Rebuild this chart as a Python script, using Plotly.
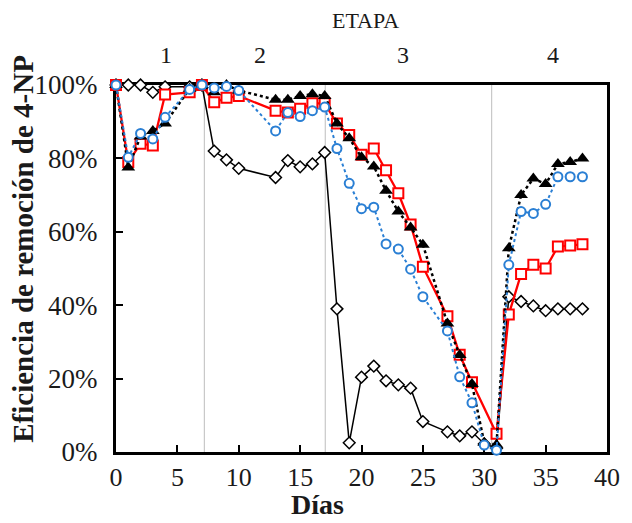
import plotly.graph_objects as go

# ---- data ----
dias_diamante = [0, 1, 2, 3, 4, 6, 7, 8, 9, 10, 13, 14, 15, 16, 17, 18, 19, 20, 21, 22, 23, 24, 25,
                 27, 28, 29, 30, 31, 32, 33, 34, 35, 36, 37, 38]
val_diamante = [100, 100, 100, 98, 99.5, 99.5, 100, 82, 79.6, 77.3, 74.8, 79.4, 77.7, 78.5, 81.6, 39,
                2.5, 20.4, 23.4, 19.4, 18.3, 17.4, 8.3, 5.5, 4.4, 5.5, 2.2, 1, 42.3, 41, 39.8, 38.5,
                39, 39, 39]

dias_cuadro = [0, 1, 2, 3, 4, 6, 7, 8, 9, 10, 13, 14, 15, 16, 17, 18, 19, 20, 21, 22, 23, 24, 25,
               27, 28, 29, 31, 32, 33, 34, 35, 36, 37, 38]
val_cuadro = [100, 79, 84, 83.5, 97.4, 98, 100, 95.3, 96.5, 97, 93, 92.5, 93.5, 95, 95, 89.5, 86.4,
              81, 82.7, 76.8, 70.5, 62, 50.5, 37, 26.5, 19, 5, 37.5, 48.5, 51, 50, 56, 56.3, 56.6]

dias_triangulo = [0, 1, 2, 3, 4, 6, 7, 8, 9, 10, 13, 14, 15, 16, 17, 18, 19, 20, 21, 22, 23, 24, 25,
                  27, 28, 29, 30, 31, 32, 33, 34, 35, 36, 37, 38]
val_triangulo = [100, 77.5, 86, 87.5, 89.5, 99, 100, 98, 100, 98.5, 96, 96, 97, 97.5, 97, 89.5, 85.5,
                 80.3, 77.8, 71.2, 65.5, 61.2, 56.5, 35, 26.4, 18.5, 2.5, 2, 55.5, 70, 74.5, 73,
                 78.5, 79, 80]

dias_circulo = [0, 1, 2, 3, 4, 6, 7, 8, 9, 10, 13, 14, 15, 16, 17, 18, 19, 20, 21, 22, 23, 24, 25,
                27, 28, 29, 30, 31, 32, 33, 34, 35, 36, 37, 38]
val_circulo = [100, 80.3, 86.8, 85.3, 91.2, 98.8, 100, 99.2, 99.6, 98.5, 87.5, 92.5, 91.4, 93, 94,
               82.7, 73.2, 66.3, 66.7, 56.7, 55.3, 49.8, 42.3, 33, 20.5, 13.4, 1.9, 0.5, 51, 65.5,
               65, 67.5, 75, 75, 75]

limites_etapa = [7.2, 17.05, 30.6]
etapas = ["1", "2", "3", "4"]
pos_etapas = [4.05, 11.7, 23.4, 35.6]

x_ticks = [0, 5, 10, 15, 20, 25, 30, 35, 40]
y_ticks = [0, 0.2, 0.4, 0.6, 0.8, 1.0]

SERIF = "Liberation Serif"
TXT = "#1a1a1a"

fig = go.Figure()

for xb in limites_etapa:
    fig.add_shape(type="line", x0=xb, x1=xb, y0=0, y1=1, xref="x", yref="y",
                  line=dict(color="#c8c8c8", width=1.2), layer="below")

fig.add_trace(go.Scatter(
    x=dias_diamante, y=[v / 100 for v in val_diamante], mode="lines+markers",
    line=dict(color="black", width=1.5),
    marker=dict(symbol="diamond", size=9, color="white", line=dict(color="black", width=1.5)),
    cliponaxis=False, showlegend=False))

fig.add_trace(go.Scatter(
    x=dias_cuadro, y=[v / 100 for v in val_cuadro], mode="lines+markers",
    line=dict(color="#ff0000", width=2.3),
    marker=dict(symbol="square", size=10, color="white", line=dict(color="#ff0000", width=2)),
    cliponaxis=False, showlegend=False))

fig.add_trace(go.Scatter(
    x=dias_triangulo, y=[v / 100 for v in val_triangulo], mode="lines+markers",
    line=dict(color="black", width=2.5, dash="dot"),
    marker=dict(symbol="triangle-up", size=12, color="black"),
    cliponaxis=False, showlegend=False))

fig.add_trace(go.Scatter(
    x=dias_circulo, y=[v / 100 for v in val_circulo], mode="lines+markers",
    line=dict(color="#2a7fd4", width=2, dash="dot"),
    marker=dict(symbol="circle", size=9, color="white", line=dict(color="#2a7fd4", width=2)),
    cliponaxis=False, showlegend=False))

annotations = [
    dict(text="ETAPA", x=0.509, y=1.175, xref="paper", yref="paper", showarrow=False,
         yanchor="middle", font=dict(family=SERIF, size=22, color=TXT)),
    dict(text="<b>Días</b>", x=0.411, y=-0.19, xref="paper", yref="paper", showarrow=False,
         yanchor="bottom", font=dict(family=SERIF, size=28, color=TXT)),
    dict(text="<b>Eficiencia de remoción de 4-NP</b>", x=-0.19, y=0.553, xref="paper",
         yref="paper", showarrow=False, textangle=-90, xanchor="center", yanchor="middle",
         font=dict(family=SERIF, size=29, color=TXT)),
]
for lab, px in zip(etapas, pos_etapas):
    annotations.append(dict(text=lab, x=px, y=1.082, xref="x", yref="paper", showarrow=False,
                            yanchor="middle", font=dict(family=SERIF, size=24, color=TXT)))

# The page body adds an 8 px offset; size and margins compensate for it.
fig.update_layout(
    width=624, height=515,
    margin=dict(l=108, r=15, t=77, b=71),
    paper_bgcolor="white", plot_bgcolor="white",
    annotations=annotations,
    xaxis=dict(range=[0, 40], tickvals=x_ticks, ticks="inside", ticklen=7, tickwidth=2,
               tickcolor="black", showline=True, linecolor="black", linewidth=3, mirror=True,
               showgrid=False, zeroline=False, layer="below traces", ticklabelstandoff=0,
               tickfont=dict(family=SERIF, size=26, color=TXT)),
    yaxis=dict(range=[0, 1], tickvals=y_ticks, tickformat=".0%", ticks="inside", ticklen=7,
               tickwidth=2, tickcolor="black", showline=True, linecolor="black", linewidth=3,
               mirror=True, showgrid=False, zeroline=False, layer="below traces",
               ticklabelstandoff=10,
               tickfont=dict(family=SERIF, size=27, color=TXT)),
)

fig.write_html("out.html")
